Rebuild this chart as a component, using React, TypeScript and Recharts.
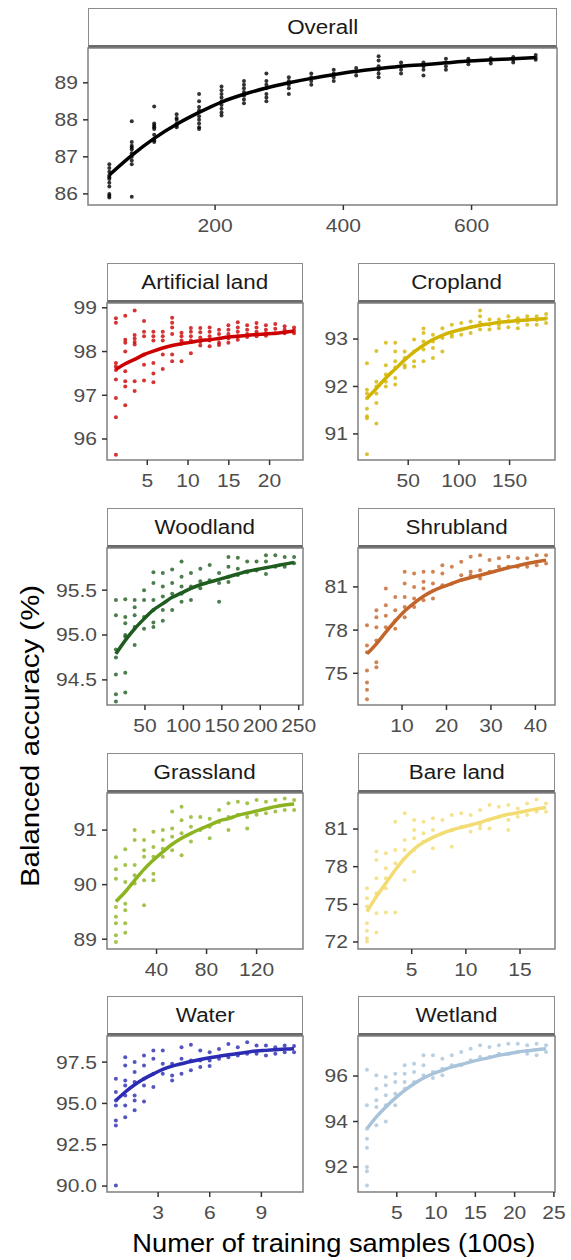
import React from 'react';
import { ComposedChart, Scatter, Line, XAxis, YAxis, ReferenceArea } from 'recharts';

const FONT = '"Liberation Sans", Arial, Helvetica, sans-serif';

// ---------- Overall ----------
const overallX = [35, 70, 105, 140, 175, 210, 245, 280, 315, 350, 385, 420, 455, 490, 525, 560, 595, 630, 665, 700];
const overallFit = [86.51, 87.04, 87.5, 87.88, 88.2, 88.48, 88.69, 88.86, 89.0, 89.12, 89.22, 89.31, 89.38, 89.45, 89.49, 89.54, 89.59, 89.62, 89.65, 89.68];
const overallPts = [
  [86.8, 86.7, 86.6, 86.5, 86.45, 86.4, 86.3, 86.2, 86.0, 85.95, 85.9],
  [87.96, 87.4, 87.3, 87.25, 87.2, 87.1, 87.0, 86.9, 86.8, 85.92],
  [88.36, 87.9, 87.85, 87.8, 87.75, 87.6, 87.45, 87.4],
  [88.15, 88.05, 88.0, 87.9, 87.85, 87.8],
  [88.7, 88.5, 88.35, 88.25, 88.1, 88.0, 87.9, 87.8, 87.75],
  [88.9, 88.8, 88.7, 88.6, 88.5, 88.4, 88.3, 88.2, 88.12],
  [89.05, 88.95, 88.85, 88.75, 88.65, 88.55, 88.45],
  [89.25, 89.05, 88.95, 88.85, 88.7, 88.6, 88.5],
  [89.15, 89.05, 88.95, 88.85, 88.7],
  [89.25, 89.15, 89.05, 88.95],
  [89.35, 89.25, 89.15, 89.05],
  [89.4, 89.3, 89.2],
  [89.72, 89.6, 89.45, 89.35, 89.25, 89.15],
  [89.55, 89.45, 89.35, 89.25],
  [89.55, 89.45, 89.35, 89.2],
  [89.65, 89.55, 89.45, 89.35],
  [89.65, 89.58, 89.5],
  [89.66, 89.6, 89.52],
  [89.7, 89.62, 89.55],
  [89.75, 89.68, 89.62],
];

// ---------- Artificial land ----------
const artificialX = [1.15, 2.3, 3.45, 4.6, 5.75, 6.9, 8.05, 9.2, 10.35, 11.5, 12.65, 13.8, 14.95, 16.1, 17.25, 18.4, 19.55, 20.7, 21.85, 23];
const artificialFit = [97.59, 97.72, 97.82, 97.93, 98.01, 98.08, 98.14, 98.18, 98.21, 98.25, 98.27, 98.3, 98.33, 98.35, 98.37, 98.39, 98.4, 98.42, 98.44, 98.47];
const artificialPts = [
  [98.76, 98.66, 97.74, 97.66, 97.58, 97.36, 96.94, 96.5, 95.64],
  [98.82, 98.27, 98.2, 98.0, 97.55, 97.32, 97.2, 96.77],
  [98.94, 98.38, 98.3, 98.22, 98.16, 97.32, 97.1],
  [98.7, 98.45, 98.35, 97.93, 97.7, 97.34],
  [98.45, 98.35, 98.25, 97.74, 97.5, 97.3],
  [98.45, 98.35, 98.25, 97.93, 97.6],
  [98.77, 98.66, 98.55, 98.4, 97.93, 97.78],
  [98.43, 98.35, 98.25, 98.18, 97.78],
  [98.54, 98.45, 98.35, 98.25, 97.96],
  [98.54, 98.44, 98.32, 98.22, 98.14],
  [98.55, 98.45, 98.35, 98.25, 98.12],
  [98.5, 98.4, 98.3, 98.2, 98.15],
  [98.6, 98.5, 98.4, 98.3, 98.2],
  [98.67, 98.55, 98.45, 98.35, 98.27],
  [98.6, 98.5, 98.4, 98.33],
  [98.65, 98.55, 98.45, 98.35],
  [98.6, 98.5, 98.42, 98.36],
  [98.63, 98.52, 98.42],
  [98.58, 98.5, 98.42],
  [98.55, 98.48, 98.42],
];

// ---------- Cropland ----------
const croplandX = [9.3, 18.6, 27.9, 37.2, 46.5, 55.8, 65.1, 74.4, 83.7, 93, 102.3, 111.6, 120.9, 130.2, 139.5, 148.8, 158.1, 167.4, 176.7, 186];
const croplandFit = [91.75, 91.96, 92.18, 92.37, 92.56, 92.73, 92.87, 92.99, 93.08, 93.15, 93.2, 93.25, 93.29, 93.32, 93.35, 93.37, 93.39, 93.4, 93.42, 93.43];
const croplandPts = [
  [92.49, 91.93, 91.85, 91.75, 91.53, 91.37, 91.33, 90.57],
  [92.75, 92.1, 92.0, 91.85, 91.65, 91.22],
  [92.92, 92.45, 92.25, 92.1, 92.0],
  [92.92, 92.74, 92.53, 92.4, 92.18, 92.04],
  [92.74, 92.6, 92.45, 92.4],
  [92.99, 92.74, 92.53, 92.42],
  [93.22, 93.13, 92.95, 92.78, 92.53],
  [93.09, 92.95, 92.81, 92.6],
  [93.23, 93.02, 92.74],
  [93.3, 93.1, 93.05],
  [93.34, 93.2, 93.09],
  [93.37, 93.25, 93.13],
  [93.6, 93.48, 93.35, 93.2],
  [93.41, 93.3, 93.2],
  [93.41, 93.3, 93.23],
  [93.48, 93.38, 93.25],
  [93.44, 93.35, 93.23],
  [93.48, 93.4, 93.3],
  [93.48, 93.4, 93.3],
  [93.53, 93.44, 93.34],
];

// ---------- Woodland ----------
const woodlandX = [12.2, 24.4, 36.6, 48.8, 61, 73.2, 85.4, 97.6, 109.8, 122, 134.2, 146.4, 158.6, 170.8, 183, 195.2, 207.4, 219.6, 231.8, 244];
const woodlandFit = [94.79, 94.94, 95.07, 95.18, 95.28, 95.35, 95.42, 95.47, 95.52, 95.56, 95.59, 95.62, 95.65, 95.68, 95.71, 95.73, 95.75, 95.77, 95.79, 95.81];
const woodlandPts = [
  [95.39, 95.22, 94.84, 94.75, 94.56, 94.34, 94.26],
  [95.4, 95.2, 95.13, 95.0, 94.98, 94.58, 94.36],
  [95.39, 95.31, 95.22, 95.09, 94.89],
  [95.5, 95.39, 95.2, 95.07],
  [95.7, 95.58, 95.39, 95.28, 95.14, 95.09],
  [95.69, 95.54, 95.43, 95.28, 95.16],
  [95.73, 95.58, 95.46, 95.28],
  [95.82, 95.65, 95.54, 95.46, 95.37],
  [95.69, 95.54, 95.39],
  [95.74, 95.6, 95.52],
  [95.78, 95.61],
  [95.69, 95.58, 95.37],
  [95.87, 95.76, 95.65, 95.59],
  [95.86, 95.74, 95.67],
  [95.82, 95.7],
  [95.82, 95.72],
  [95.89, 95.82, 95.68],
  [95.89, 95.76],
  [95.87, 95.76],
  [95.87, 95.8],
];

// ---------- Shrubland ----------
const shrublandX = [2.12, 4.24, 6.36, 8.48, 10.6, 12.72, 14.84, 16.96, 19.08, 21.2, 23.32, 25.44, 27.56, 29.68, 31.8, 33.92, 36.04, 38.16, 40.28, 42.4];
const shrublandFit = [76.35, 77.05, 77.86, 78.63, 79.33, 79.88, 80.35, 80.72, 81.0, 81.23, 81.47, 81.65, 81.81, 81.98, 82.16, 82.33, 82.47, 82.63, 82.74, 82.86];
const shrublandPts = [
  [78.33, 76.93, 76.47, 75.19, 74.37, 73.86, 73.2],
  [79.37, 78.9, 78.2, 77.28, 75.77, 75.42],
  [80.88, 79.72, 79.0, 78.2],
  [80.3, 79.37, 78.67, 78.1],
  [82.05, 81.23, 80.3, 79.6, 78.9],
  [81.93, 81.0, 80.19, 79.6],
  [82.05, 81.35, 80.88, 80.07],
  [82.05, 81.23, 80.19],
  [82.51, 81.93, 81.12],
  [82.4, 81.23],
  [82.74, 81.81, 81.47],
  [83.09, 82.05, 81.81],
  [83.2, 82.16, 81.58],
  [82.86, 82.05],
  [82.98, 82.4],
  [83.09, 82.4],
  [82.98, 82.4],
  [82.98, 82.4],
  [83.2, 82.51],
  [83.2, 82.63],
];

// ---------- Grassland ----------
const grasslandX = [7.5, 15, 22.5, 30, 37.5, 45, 52.5, 60, 67.5, 75, 82.5, 90, 97.5, 105, 112.5, 120, 127.5, 135, 142.5, 150];
const grasslandFit = [89.69, 89.87, 90.08, 90.28, 90.45, 90.6, 90.74, 90.85, 90.94, 91.02, 91.09, 91.17, 91.21, 91.27, 91.31, 91.35, 91.39, 91.43, 91.46, 91.48];
const grasslandPts = [
  [90.5, 90.28, 90.11, 89.59, 89.41, 89.29, 89.07, 88.95],
  [90.65, 90.36, 90.05, 89.65, 89.53, 89.29, 89.12],
  [91.0, 90.82, 90.36, 90.17, 90.02],
  [90.82, 90.63, 90.51, 90.08, 89.62],
  [90.97, 90.69, 90.51, 90.2, 90.08],
  [91.0, 90.82, 90.66, 90.51],
  [91.34, 91.03, 90.88, 90.63],
  [91.43, 91.18, 90.94, 90.54],
  [91.24, 91.06, 90.79],
  [91.24, 91.0],
  [91.21, 91.06, 90.85],
  [91.37, 91.15],
  [91.49, 91.24, 91.0],
  [91.52, 91.28],
  [91.49, 91.24, 91.03],
  [91.55, 91.28],
  [91.52, 91.31],
  [91.55, 91.34],
  [91.58, 91.37],
  [91.55, 91.37],
];

// ---------- Bare land ----------
const barelandX = [0.87, 1.74, 2.61, 3.48, 4.35, 5.22, 6.09, 6.96, 7.83, 8.7, 9.57, 10.44, 11.31, 12.18, 13.05, 13.92, 14.79, 15.66, 16.53, 17.4];
const barelandFit = [74.42, 75.62, 76.68, 77.74, 78.67, 79.41, 79.94, 80.34, 80.66, 80.92, 81.13, 81.32, 81.53, 81.77, 81.98, 82.17, 82.3, 82.46, 82.59, 82.72];
const barelandPts = [
  [76.28, 75.48, 74.82, 73.5, 72.9, 72.3, 72.03],
  [79.2, 78.53, 77.07, 75.88, 74.29, 72.75],
  [79.06, 77.87, 77.07, 76.28, 74.34],
  [81.58, 79.33, 78.27, 74.34],
  [82.25, 80.12, 79.33, 76.94],
  [81.72, 80.92, 80.26, 79.33, 77.6],
  [81.58, 80.66, 79.99],
  [81.85, 80.92, 79.46],
  [81.72, 80.66],
  [82.11, 80.92, 79.59],
  [82.25, 81.19],
  [82.11, 80.79],
  [82.51, 81.32, 81.05],
  [82.91, 81.72, 81.05],
  [82.78, 81.98],
  [82.91, 81.72, 80.92],
  [82.64, 81.98],
  [83.04, 82.11],
  [83.36, 82.38],
  [83.04, 82.38],
];

// ---------- Water ----------
const waterX = [0.545, 1.09, 1.635, 2.18, 2.725, 3.27, 3.815, 4.36, 4.905, 5.45, 5.995, 6.54, 7.085, 7.63, 8.175, 8.72, 9.265, 9.81, 10.355, 10.9];
const waterFit = [95.18, 95.69, 96.13, 96.49, 96.79, 97.06, 97.26, 97.4, 97.54, 97.66, 97.76, 97.86, 97.94, 98.02, 98.1, 98.17, 98.21, 98.25, 98.29, 98.31];
const waterPts = [
  [96.49, 95.69, 95.18, 94.88, 93.97, 93.67, 90.04],
  [97.8, 97.3, 96.39, 96.09, 95.48, 94.88, 94.17],
  [97.5, 96.9, 96.29, 95.48, 95.18, 94.58],
  [97.9, 97.3, 96.49, 96.09, 95.12],
  [98.2, 97.7, 96.79, 95.99],
  [98.2, 97.4, 96.79],
  [97.4, 96.69, 96.39],
  [98.4, 97.7, 96.79],
  [98.55, 97.6, 97.0],
  [98.2, 97.6, 97.2],
  [98.1, 97.6, 97.26],
  [98.3, 97.7],
  [98.6, 97.8],
  [98.4, 97.9],
  [98.7, 98.0],
  [98.5, 98.0],
  [98.5, 97.9],
  [98.4, 98.0],
  [98.5, 98.1],
  [98.47, 98.1],
];

// ---------- Wetland ----------
const wetlandX = [1.2, 2.4, 3.6, 4.8, 6, 7.2, 8.4, 9.6, 10.8, 12, 13.2, 14.4, 15.6, 16.8, 18, 19.2, 20.4, 21.6, 22.8, 24];
const wetlandFit = [93.68, 94.2, 94.64, 95.03, 95.37, 95.66, 95.91, 96.1, 96.25, 96.4, 96.51, 96.62, 96.72, 96.81, 96.91, 96.98, 97.06, 97.11, 97.16, 97.2];
const wetlandPts = [
  [96.28, 94.71, 93.68, 93.24, 92.85, 92.0, 91.81, 91.19],
  [96.03, 95.44, 94.93, 94.64, 93.83],
  [95.96, 95.59, 95.15, 94.71, 94.0],
  [96.1, 95.74, 95.22, 94.71],
  [96.47, 96.1, 95.74, 95.44],
  [96.54, 96.18, 95.74],
  [96.91, 96.47, 96.03],
  [96.91, 96.18, 95.91],
  [96.76, 96.32, 96.03],
  [96.91, 96.47],
  [97.06, 96.47],
  [97.2, 96.69],
  [97.35, 96.84],
  [97.28, 96.84],
  [97.35, 96.98],
  [97.42, 96.98],
  [97.42, 97.06],
  [97.35, 96.98],
  [97.42, 96.91],
  [97.35, 97.06],
];

// ---------- axis ticks & domains ----------
const overallXTicks = [200, 400, 600];
const overallYTicks = [86, 87, 88, 89];
const artificialXTicks = [5, 10, 15, 20];
const artificialYTicks = [96, 97, 98, 99];
const croplandXTicks = [50, 100, 150];
const croplandYTicks = [91, 92, 93];
const woodlandXTicks = [50, 100, 150, 200, 250];
const woodlandYTicks = [94.5, 95.0, 95.5];
const shrublandXTicks = [10, 20, 30, 40];
const shrublandYTicks = [75, 78, 81];
const grasslandXTicks = [40, 80, 120];
const grasslandYTicks = [89, 90, 91];
const barelandXTicks = [5, 10, 15];
const barelandYTicks = [72, 75, 78, 81];
const waterXTicks = [3, 6, 9];
const waterYTicks = [90.0, 92.5, 95.0, 97.5];
const wetlandXTicks = [5, 10, 15, 20, 25];
const wetlandYTicks = [92, 94, 96];

const overallXDomain = [1.75, 733.25];
const overallYDomain = [85.7, 89.94];
const artificialXDomain = [0.06, 24.1];
const artificialYDomain = [95.52, 99.11];
const croplandXDomain = [0.47, 194.8];
const croplandYDomain = [90.45, 93.76];
const woodlandXDomain = [0.61, 255.6];
const woodlandYDomain = [94.22, 95.97];
const shrublandXDomain = [0.1, 44.41];
const shrublandYDomain = [72.8, 83.7];
const grasslandXDomain = [0.38, 157.1];
const grasslandYDomain = [88.82, 91.68];
const barelandXDomain = [0.04, 18.23];
const barelandYDomain = [71.44, 83.87];
const waterXDomain = [0.03, 11.42];
const waterYDomain = [89.64, 99.08];
const wetlandXDomain = [0.06, 25.14];
const wetlandYDomain = [90.9, 97.76];

type PanelProps = {
  title: string;
  color: string;
  left: number;
  top: number;
  width: number;
  height: number;
  xs: number[];
  fit: number[];
  pts: number[][];
  xDomain: number[];
  yDomain: number[];
  xTicks: number[];
  yTicks: number[];
  yDecimals?: number;
};

const Y_AXIS_W = 80;
const X_AXIS_H = 40;
const STRIP_H = 40;
const M_TOP = 14;
const M_RIGHT = 24;
const TICK_FS = 18;
const SX = 1.17;

function makeTick(axis: 'x' | 'y', fmt: (v: number) => string) {
  return (props: any) => {
    const { x, y, payload } = props;
    return (
      <g transform={`translate(${x},${y}) scale(${SX},1)`}>
        <text
          x={0}
          y={0}
          dy={axis === 'x' ? '0.71em' : '0.355em'}
          textAnchor={axis === 'x' ? 'middle' : 'end'}
          fill="#4d4d4d"
          fontSize={TICK_FS}
          fontFamily={FONT}
        >
          {fmt(payload.value)}
        </text>
      </g>
    );
  };
}

function Panel(p: PanelProps) {
  const points = p.xs.flatMap((x, i) => p.pts[i].map((y) => ({ x, y })));
  const fitData = p.xs.map((x, i) => ({ x, y: p.fit[i] }));
  const color = p.color;
  const dot = (props: any) => (
    <circle cx={props.cx} cy={props.cy} r={2} fill={color} fillOpacity={0.8} />
  );
  const yFmt = (v: number) => (p.yDecimals ? v.toFixed(p.yDecimals) : String(v));
  const xFmt = (v: number) => String(v);
  return (
    <>
      <div
        style={{
          position: 'absolute',
          left: p.left,
          top: p.top - STRIP_H,
          width: p.width,
          height: STRIP_H,
          boxSizing: 'border-box',
          border: '1px solid #8c8c8c',
          borderBottom: '3px solid #6a6a6a',
          display: 'flex',
          alignItems: 'center',
          justifyContent: 'center',
          fontFamily: FONT,
          color: '#1a1a1a',
          background: '#fff',
        }}
      >
        <span style={{ display: 'inline-block', fontSize: 20, transform: 'scaleX(1.12)', whiteSpace: 'nowrap' }}>
          {p.title}
        </span>
      </div>
      <div style={{ position: 'absolute', left: p.left - Y_AXIS_W, top: p.top - M_TOP }}>
        <ComposedChart
          width={Y_AXIS_W + p.width + M_RIGHT}
          height={M_TOP + p.height + X_AXIS_H}
          margin={{ top: M_TOP, right: M_RIGHT, bottom: 0, left: 0 }}
        >
          <XAxis
            type="number"
            dataKey="x"
            domain={p.xDomain as any}
            ticks={p.xTicks}
            interval={0}
            allowDataOverflow
            height={X_AXIS_H}
            axisLine={false}
            tickLine={{ stroke: '#333', strokeWidth: 1.5 }}
            tickSize={5}
            tickMargin={9}
            tick={makeTick('x', xFmt)}
          />
          <YAxis
            type="number"
            dataKey="y"
            domain={p.yDomain as any}
            ticks={p.yTicks}
            interval={0}
            allowDataOverflow
            width={Y_AXIS_W}
            axisLine={false}
            tickLine={{ stroke: '#333', strokeWidth: 1.5 }}
            tickSize={5}
            tickMargin={5}
            tick={makeTick('y', yFmt)}
          />
          <ReferenceArea
            x1={p.xDomain[0]}
            x2={p.xDomain[1]}
            y1={p.yDomain[0]}
            y2={p.yDomain[1]}
            fill="none"
            stroke="#808080"
            strokeWidth={1.5}
            ifOverflow="visible"
          />
          <Scatter data={points} shape={dot} isAnimationActive={false} />
          <Line
            data={fitData}
            dataKey="y"
            type="monotone"
            stroke={color}
            strokeWidth={3.5}
            dot={false}
            activeDot={false}
            isAnimationActive={false}
          />
        </ComposedChart>
      </div>
    </>
  );
}

const COL1 = 107;
const COL2 = 358;
const COLW1 = 196;
const COLW2 = 197;
const PLOT_H = 157;

export default function App() {
  return (
    <div
      style={{
        position: 'absolute',
        left: 0,
        top: 0,
        width: 571,
        height: 1260,
        background: '#fff',
        fontFamily: FONT,
        overflow: 'hidden',
      }}
    >
      <Panel title="Overall" color="#000000" left={88} top={48} width={469} height={PLOT_H}
        xs={overallX} fit={overallFit} pts={overallPts} xDomain={overallXDomain} yDomain={overallYDomain}
        xTicks={overallXTicks} yTicks={overallYTicks} />

      <Panel title="Artificial land" color="#cc0000" left={COL1} top={303} width={COLW1} height={PLOT_H}
        xs={artificialX} fit={artificialFit} pts={artificialPts} xDomain={artificialXDomain} yDomain={artificialYDomain}
        xTicks={artificialXTicks} yTicks={artificialYTicks} />
      <Panel title="Cropland" color="#d2b400" left={COL2} top={303} width={COLW2} height={PLOT_H}
        xs={croplandX} fit={croplandFit} pts={croplandPts} xDomain={croplandXDomain} yDomain={croplandYDomain}
        xTicks={croplandXTicks} yTicks={croplandYTicks} />

      <Panel title="Woodland" color="#1f5c1f" left={COL1} top={548} width={COLW1} height={PLOT_H}
        xs={woodlandX} fit={woodlandFit} pts={woodlandPts} xDomain={woodlandXDomain} yDomain={woodlandYDomain}
        xTicks={woodlandXTicks} yTicks={woodlandYTicks} yDecimals={1} />
      <Panel title="Shrubland" color="#c3652a" left={COL2} top={548} width={COLW2} height={PLOT_H}
        xs={shrublandX} fit={shrublandFit} pts={shrublandPts} xDomain={shrublandXDomain} yDomain={shrublandYDomain}
        xTicks={shrublandXTicks} yTicks={shrublandYTicks} />

      <Panel title="Grassland" color="#8cb420" left={COL1} top={793} width={COLW1} height={PLOT_H - 1}
        xs={grasslandX} fit={grasslandFit} pts={grasslandPts} xDomain={grasslandXDomain} yDomain={grasslandYDomain}
        xTicks={grasslandXTicks} yTicks={grasslandYTicks} />
      <Panel title="Bare land" color="#f3dc73" left={COL2} top={793} width={COLW2} height={PLOT_H - 1}
        xs={barelandX} fit={barelandFit} pts={barelandPts} xDomain={barelandXDomain} yDomain={barelandYDomain}
        xTicks={barelandXTicks} yTicks={barelandYTicks} />

      <Panel title="Water" color="#2b2bb3" left={COL1} top={1036} width={COLW1} height={PLOT_H - 1}
        xs={waterX} fit={waterFit} pts={waterPts} xDomain={waterXDomain} yDomain={waterYDomain}
        xTicks={waterXTicks} yTicks={waterYTicks} yDecimals={1} />
      <Panel title="Wetland" color="#a9c4da" left={COL2} top={1036} width={COLW2} height={PLOT_H - 1}
        xs={wetlandX} fit={wetlandFit} pts={wetlandPts} xDomain={wetlandXDomain} yDomain={wetlandYDomain}
        xTicks={wetlandXTicks} yTicks={wetlandYTicks} />

      <div
        style={{
          position: 'absolute',
          left: 30 - 200,
          top: 736 - 16,
          width: 400,
          height: 32,
          lineHeight: '32px',
          textAlign: 'center',
          transform: 'rotate(-90deg) scaleX(1.13)',
          fontSize: 26,
          color: '#000',
          fontFamily: FONT,
        }}
      >
        Balanced accuracy (%)
      </div>
      <div
        style={{
          position: 'absolute',
          left: 0,
          width: 571,
          paddingLeft: 96,
          boxSizing: 'border-box',
          top: 1227,
          height: 32,
          lineHeight: '32px',
          textAlign: 'center',
          color: '#000',
          fontFamily: FONT,
        }}
      >
        <span style={{ display: 'inline-block', fontSize: 25, transform: 'scaleX(1.09)', whiteSpace: 'nowrap' }}>
          Numer of training samples (100s)
        </span>
      </div>
    </div>
  );
}
